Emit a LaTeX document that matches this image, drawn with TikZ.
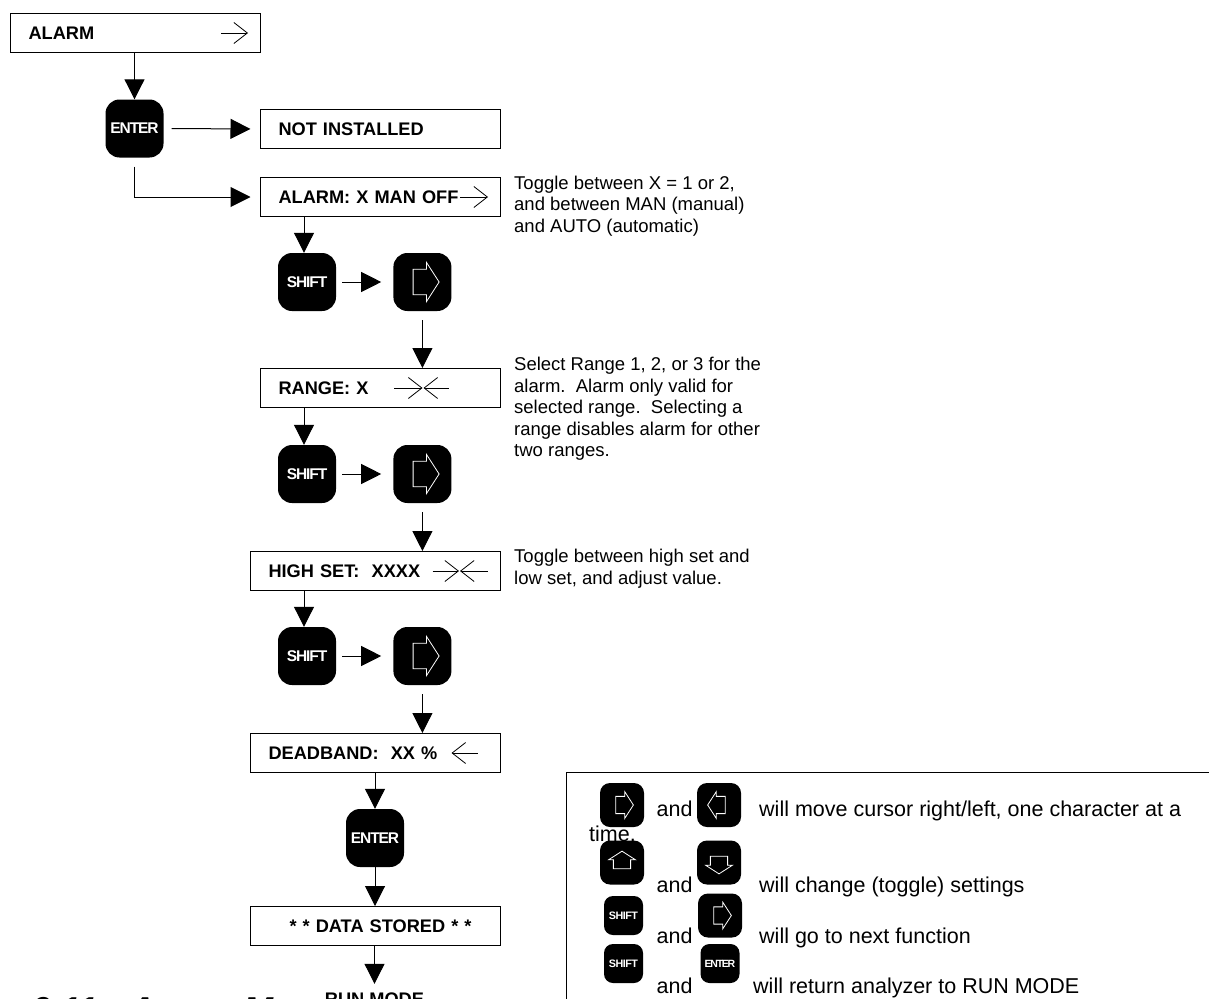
\documentclass[tikz,border=0pt]{standalone}
\usepackage{fontspec}
\setmainfont{Liberation Sans}
\usetikzlibrary{arrows.meta,positioning}

\begin{document}
\begin{tikzpicture}[x=1pt, y=1pt]
        % Define styles
        \tikzstyle{menubox} = [rectangle, draw, line width=1pt, minimum width=240pt, minimum height=39pt, inner sep=0pt, text width=203pt, align=left, text height=13pt, text depth=0pt, anchor=north west, font=\fontsize{18.2}{20}\selectfont\bfseries]
        \tikzstyle{widebox} = [menubox, minimum width=250pt, text width=213pt]
        \tikzstyle{keycap} = [rectangle, fill=black, rounded corners=14pt, minimum size=58pt, inner sep=0pt, text=white, font=\fontsize{15.5}{17}\selectfont\bfseries\addfontfeatures{LetterSpace=-7}]
        \tikzstyle{smallkey} = [keycap, rounded corners=10pt, minimum size=44pt]
        \tikzstyle{tinykey} = [keycap, rounded corners=9pt, minimum size=39pt, font=\fontsize{10.8}{12}\selectfont\bfseries\addfontfeatures{LetterSpace=-5}]
        \tikzstyle{arrow} = [line width=1pt, -{Triangle[length=20pt, width=20pt]}]
        \tikzstyle{pointer} = [line width=0.8pt, -{Straight Barb[length=13.5pt, width=21pt]}]
        \tikzstyle{note} = [anchor=north west, inner sep=0pt, align=left, font=\fontsize{18.5}{21.5}\selectfont]
        \tikzstyle{legend} = [anchor=base west, inner sep=0pt, font=\fontsize{21.5}{24}\selectfont]
        \tikzset{keyarrow/.pic={\draw [white, line width=0.8pt] (-9.3,-12.7) -- (4,-12.7) -- (4,-19.7) -- (16.7,0) -- (4,19.7) -- (4,12.7) -- (-9.3,12.7) -- cycle;}}

        \useasboundingbox (0,0) rectangle (1209,-998);
        \clip (0,0) rectangle (1209,-998);

        % Menu boxes
        \node [widebox] (alarm) at (9.5,-13) {ALARM};
        \node [menubox] (notinst) at (259.5,-109) {NOT INSTALLED};
        \node [menubox] (alarmx) at (259.5,-177) {ALARM: X MAN OFF};
        \node [menubox] (range) at (259.5,-368) {RANGE: X};
        \node [widebox] (highset) at (249.5,-551) {HIGH SET:\ \ XXXX};
        \node [widebox] (deadband) at (249.5,-733) {DEADBAND:\ \ XX \%};
        \node [widebox] (stored) at (249.5,-906) {\hspace*{21pt}* * DATA STORED * *};
        \node [anchor=base, inner sep=0pt, text height=13pt, font=\fontsize{18.2}{20}\selectfont\bfseries] (runmode) at (374.5,-1005) {RUN MODE};

        % Keys along the flow
        \node [keycap] (enterone) at (134.5,-128.5) {ENTER};
        \node [keycap] (shiftone) at (307,-282) {SHIFT};
        \node [keycap, right=57pt of shiftone] (rightone) {};
        \node [keycap] (shifttwo) at (307,-474) {SHIFT};
        \node [keycap, right=57pt of shifttwo] (righttwo) {};
        \node [keycap] (shiftthree) at (307,-656) {SHIFT};
        \node [keycap, right=57pt of shiftthree] (rightthree) {};
        \node [keycap] (entertwo) at (375,-838) {ENTER};
        \pic at (rightone) {keyarrow};
        \pic at (righttwo) {keyarrow};
        \pic at (rightthree) {keyarrow};

        % Arrows
        \draw [arrow] (alarm.south -| enterone) -- (enterone.north);
        \draw [arrow] ([xshift=8pt]enterone.east) -- ([xshift=-9pt]notinst.west);
        \draw [arrow] ([yshift=-9pt]enterone.south) |- ([xshift=-9pt]alarmx.west);
        \draw [arrow] ([xshift=-3pt]shiftone.north |- alarmx.south) -- ([xshift=-3pt]shiftone.north);
        \draw [arrow] ([xshift=6pt]shiftone.east) -- ([xshift=-12pt]rightone.west);
        \draw [arrow] ([yshift=-9pt]rightone.south) -- (rightone |- range.north);
        \draw [arrow] ([xshift=-3pt]shifttwo.north |- range.south) -- ([xshift=-3pt]shifttwo.north);
        \draw [arrow] ([xshift=6pt]shifttwo.east) -- ([xshift=-12pt]righttwo.west);
        \draw [arrow] ([yshift=-9pt]righttwo.south) -- (righttwo |- highset.north);
        \draw [arrow] ([xshift=-3pt]shiftthree.north |- highset.south) -- ([xshift=-3pt]shiftthree.north);
        \draw [arrow] ([xshift=6pt]shiftthree.east) -- ([xshift=-12pt]rightthree.west);
        \draw [arrow] ([yshift=-9pt]rightthree.south) -- (rightthree |- deadband.north);
        \draw [arrow] (deadband.south -| entertwo) -- (entertwo.north);
        \draw [arrow] (entertwo.south) -- (entertwo |- stored.north);
        \draw [arrow] (stored.south -| runmode) -- ([yshift=8pt]runmode.north);

        % Pointers inside the boxes
        \draw [pointer] ([xshift=-39.5pt]alarm.east) -- ([xshift=-12.5pt]alarm.east);
        \draw [pointer] ([xshift=-40.5pt]alarmx.east) -- ([xshift=-12.5pt]alarmx.east);
        \draw [pointer] ([xshift=-106.5pt]range.east) -- ([xshift=-78pt]range.east);
        \draw [pointer] ([xshift=-52pt]range.east) -- ([xshift=-77pt]range.east);
        \draw [pointer] ([xshift=-68pt]highset.east) -- ([xshift=-41.5pt]highset.east);
        \draw [pointer] ([xshift=-13pt]highset.east) -- ([xshift=-40.5pt]highset.east);
        \draw [pointer] ([xshift=-23pt]deadband.east) -- ([xshift=-49pt]deadband.east);

        % Notes
        \node [note] (togglenote) at (514,-175.5) {Toggle between X = 1 or 2,\\and between MAN (manual)\\and AUTO (automatic)};
        \node [note] (rangenote) at (514,-357) {Select Range 1, 2, or 3 for the\\alarm.\ \ Alarm only valid for\\selected range.\ \ Selecting a\\range disables alarm for other\\two ranges.};
        \node [note] (highnote) at (514,-549) {Toggle between high set and\\low set, and adjust value.};

        % Legend
        \node [rectangle, draw, line width=0.8pt, anchor=north west, minimum width=700pt, minimum height=300pt] (legendbox) at (566,-771.5) {};
        \node [legend] (andone) at (656.5,-816) {and};
        \node [legend] (movetext) at (759,-816) {will move cursor right/left, one character at a};
        \node [legend] (timetext) at (589,-841.7) {time.};
        \node [legend] (andtwo) at (656.5,-892) {and};
        \node [legend] (changetext) at (759,-892) {will change (toggle) settings};
        \node [legend] (andthree) at (656.5,-943) {and};
        \node [legend] (nexttext) at (759,-943) {will go to next function};
        \node [legend] (andfour) at (656.5,-993) {and};
        \node [legend] (returntext) at (753,-993) {will return analyzer to RUN MODE};
        \node [smallkey] (legendright) at (622,-805) {};
        \node [smallkey] (legendleft) at (719,-805) {};
        \node [smallkey] (legendup) at (622,-862.5) {};
        \node [smallkey] (legenddown) at (719,-862.5) {};
        \node [tinykey] (legendshift) at (623.5,-915.5) {SHIFT};
        \node [smallkey] (legendnext) at (720,-915.5) {};
        \node [tinykey] (legendshifttwo) at (623.5,-963.5) {SHIFT};
        \node [tinykey, font=\fontsize{10.5}{12}\selectfont\bfseries\addfontfeatures{LetterSpace=-12}] (legendenter) at (720,-963.5) {ENTER};
        \pic [scale=0.68] at (legendright) {keyarrow};
        \pic [scale=0.68, rotate=180] at (legendleft) {keyarrow};
        \pic [scale=0.68, rotate=90] at (legendup) {keyarrow};
        \pic [scale=0.68, rotate=-90] at (legenddown) {keyarrow};
        \pic [scale=0.68] at (legendnext) {keyarrow};

        % Heading, only the tops of its capitals are on the page
        \node [anchor=base west, inner sep=0pt, font=\fontsize{36}{38}\selectfont\bfseries\itshape] (heading) at (30,-1022) {6.11\hspace{32pt}A\hspace{88pt}M};
    \end{tikzpicture}
\end{document}
